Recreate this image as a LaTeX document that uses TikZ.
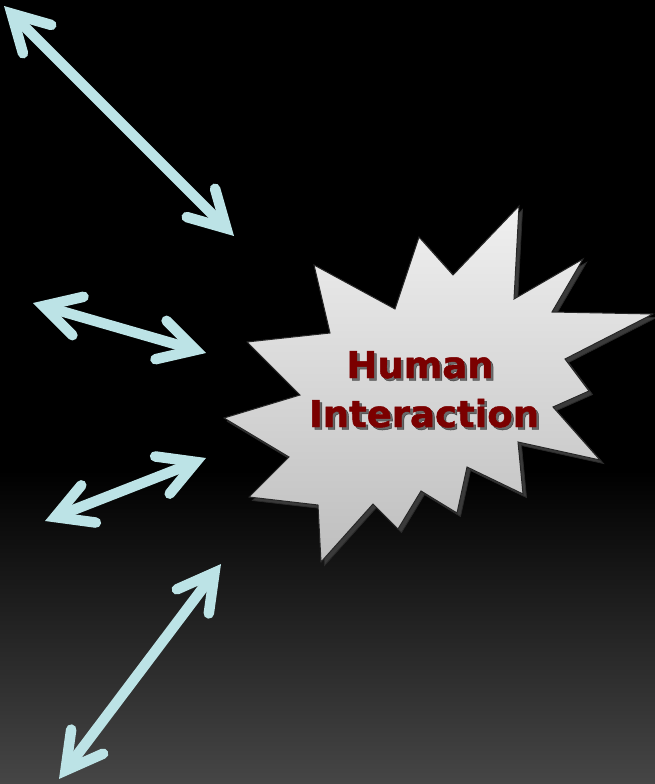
\documentclass[tikz,border=0pt]{standalone}
\usepackage{fontspec}
\newfontfamily\hfont{DejaVu Sans}[BoldFeatures={FakeBold=1.3}]
\usetikzlibrary{arrows.meta,shadings}
\definecolor{arrowcol}{HTML}{BCE3E6}
\definecolor{txtred}{HTML}{7B0000}
\definecolor{bgbot}{HTML}{464646}
\definecolor{startop}{HTML}{F0F0F0}
\definecolor{starbot}{HTML}{BEBEBE}
\definecolor{shadowcol}{HTML}{3A3A3A}
\tikzset{
  barb/.tip={Straight Barb[length=36pt,width=40pt,line cap=round,line join=miter]},
  dblarrow/.style={draw=arrowcol,line width=10.5pt,line cap=round,barb-barb},
  burst/.style={draw=black!85,line width=1pt,line join=miter,top color=startop,bottom color=starbot},
  burstshadow/.style={fill=shadowcol,draw=shadowcol!70!black,line width=0.8pt},
  label/.style={font=\hfont\bfseries\fontsize{37}{49}\selectfont,text=txtred,anchor=base,inner sep=0pt},
  labelshadow/.style={font=\hfont\bfseries\fontsize{37}{49}\selectfont,text=black,opacity=0.5,anchor=base,inner sep=0pt}
}
\begin{document}
\begin{tikzpicture}[x=1pt,y=-1pt]
\useasboundingbox (0,0) rectangle (655,784);
\fill[black] (0,0) rectangle (655,784);
\shade[top color=black,bottom color=bgbot] (0,470) rectangle (655,784);
% starburst
\def\burstpath{(314,265) -- (395,309) -- (419,237) -- (453,275) -- (519,206) -- (514,299) -- (583,259) -- (552,312) -- (653,314) -- (565,359) -- (589,391) -- (553,407) -- (600,460) -- (518,442) -- (523,494) -- (467,467) -- (457,513) -- (421,491) -- (398,529) -- (373,504) -- (321,562) -- (318,505) -- (249,497) -- (289,457) -- (224,418) -- (300,395) -- (247,342) -- (330,333) -- cycle}
\begin{scope}[shift={(3.5,3.5)}]
\path[burstshadow] \burstpath;
\end{scope}
\path[burst] \burstpath;
% text
\node[labelshadow] at (422.5,380.5) {Human};
\node[labelshadow] at (426.5,429.5) {Interaction};
\node[label] (human) at (420,378) {Human};
\node[label] (interaction) at (424,427) {Interaction};
% arrow end points
\coordinate (a1s) at (4,6);
\coordinate (a1e) at (234,236);
\coordinate (a2s) at (33,303);
\coordinate (a2e) at (206,353);
\coordinate (a3s) at (45,521);
\coordinate (a3e) at (206,458);
\coordinate (a4s) at (221,564);
\coordinate (a4e) at (59,779);
\draw[dblarrow] (a1s) -- (a1e);
\draw[dblarrow] (a2s) -- (a2e);
\draw[dblarrow] (a3s) -- (a3e);
\draw[dblarrow] (a4s) -- (a4e);
\end{tikzpicture}
\end{document}
